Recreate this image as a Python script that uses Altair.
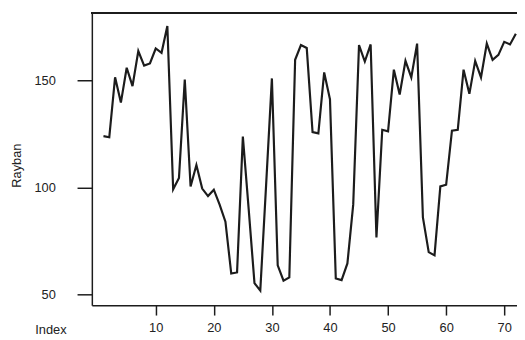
import altair as alt
import pandas as pd

index = list(range(1, 73))
rayban = [
    124.0, 123.5, 151.5, 139.7, 156.0, 147.4, 163.8, 157.0, 158.0, 165.0,
    163.0, 175.5, 99.2, 104.5, 150.5, 100.5, 110.5, 99.5, 96.0, 99.0,
    92.0, 84.0, 59.8, 60.3, 123.8, 90.0, 55.3, 51.8, 101.0, 151.0,
    63.6, 56.5, 58.0, 159.7, 166.6, 165.2, 125.9, 125.3, 153.8, 141.2,
    57.5, 56.7, 64.5, 92.0, 166.6, 158.9, 166.9, 76.7, 127.0, 126.3,
    155.1, 143.5, 159.2, 151.5, 167.3, 86.0, 69.8, 68.3, 100.5, 101.3,
    126.6, 127.0, 155.1, 143.8, 159.2, 151.5, 167.3, 159.7, 162.0, 168.1,
    166.9, 171.9,
]
x_ticks = [10, 20, 30, 40, 50, 60, 70]
y_ticks = [50, 100, 150]

df = pd.DataFrame({"Index": index, "Rayban": rayban})

W, H = 431, 296
FONT = "Liberation Sans"

line = alt.Chart(df).mark_line(color="#1c1c1c", strokeWidth=2.2, clip=True).encode(
    x=alt.X(
        "Index:Q",
        scale=alt.Scale(domain=[-1, 72.2], nice=False, zero=False),
        axis=alt.Axis(
            values=x_ticks, title="Index", grid=False,
            tickSize=10, labelPadding=7, labelFlush=False,
            titleX=-42, titleY=25, titleAlign="center", titleBaseline="middle",
        ),
    ),
    y=alt.Y(
        "Rayban:Q",
        scale=alt.Scale(domain=[45, 181.5], nice=False, zero=False),
        axis=alt.Axis(
            values=y_ticks, title="Rayban", grid=False,
            tickSize=15, labelPadding=22, labelFlush=False, labelAlign="right",
            titleX=-76, titleY=154, titleAlign="center", titleBaseline="middle",
        ),
    ),
)

top_border = alt.Chart(df).mark_rule(color="#1c1c1c", strokeWidth=1.5).encode(
    x=alt.value(0), x2=alt.value(W), y=alt.value(0)
)

chart = (
    alt.layer(top_border, line)
    .properties(
        width=W, height=H,
        autosize=alt.AutoSizeParams(type="none"),
        padding={"left": 85, "top": 3, "right": 0, "bottom": 30},
        background="white",
    )
    .configure_view(stroke=None)
    .configure_axis(
        domainColor="#1c1c1c", domainWidth=1.5,
        tickColor="#1c1c1c", tickWidth=1.5,
        labelFont=FONT, labelFontSize=13, labelColor="#222222",
        titleFont=FONT, titleFontSize=13, titleFontWeight="normal", titleColor="#222222",
    )
)

chart.save("out.html", embed_options={"renderer": "svg", "actions": False})
